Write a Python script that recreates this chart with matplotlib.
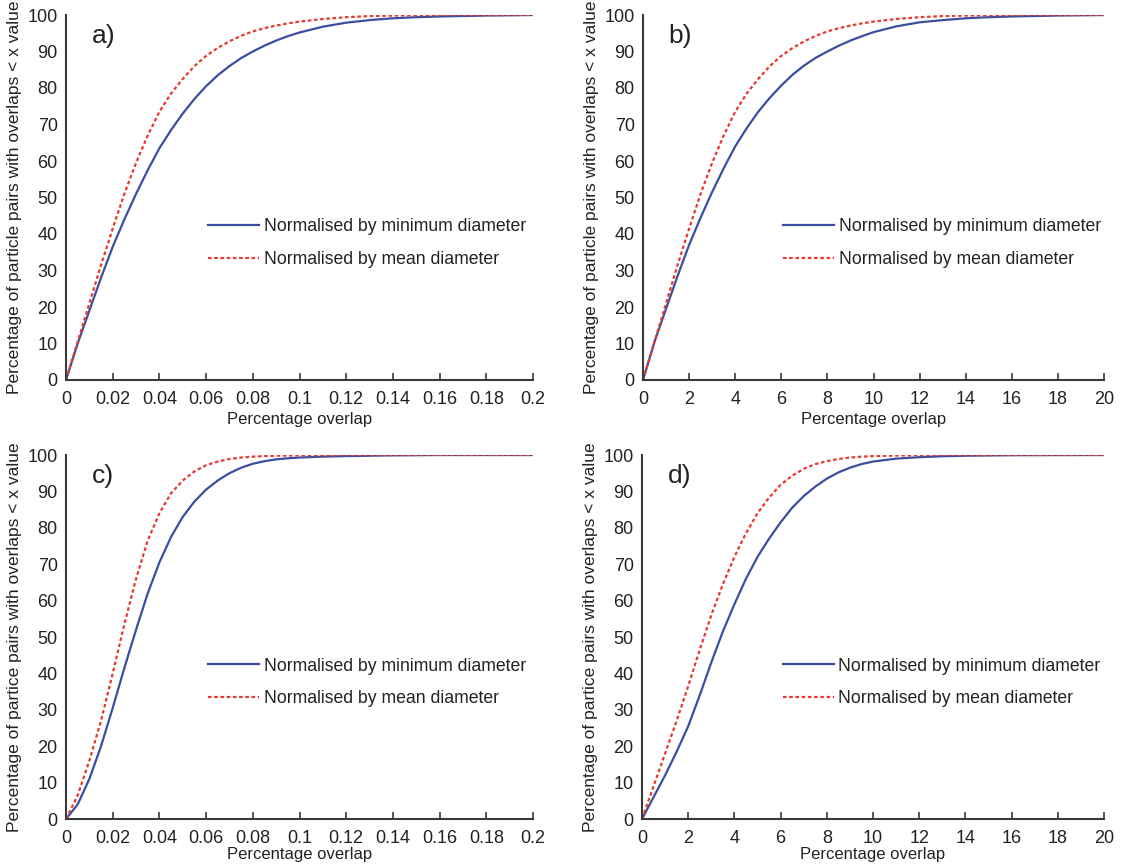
import numpy as np
import matplotlib
matplotlib.use("Agg")
import matplotlib.pyplot as plt

plt.rcParams['font.family'] = ['Liberation Sans', 'DejaVu Sans']

# Panel a) : overlap as fraction, 0 - 0.2
xa = [0, 0.005, 0.01, 0.015, 0.02, 0.025, 0.03, 0.035, 0.04, 0.045, 0.05, 0.055,
      0.06, 0.065, 0.07, 0.075, 0.08, 0.085, 0.09, 0.095, 0.1, 0.11, 0.12, 0.13,
      0.14, 0.15, 0.16, 0.18, 0.2]
a_min = [0, 10, 19, 28, 36.5, 44, 51, 57.5, 63.5, 68.5, 73, 77,
         80.5, 83.5, 86, 88.2, 90, 91.6, 93, 94.2, 95.2, 96.8, 97.9, 98.6,
         99.1, 99.4, 99.6, 99.85, 100]
a_mean = [0, 10.5, 21, 31.5, 41.5, 51, 59.5, 67, 73.5, 78.5, 82.5, 86,
          88.8, 91, 92.8, 94.3, 95.5, 96.4, 97.1, 97.7, 98.2, 98.9, 99.4, 99.7,
          99.85, 99.95, 100, 100, 100]

# Panel b) : overlap in percent, 0 - 20
xb = [0, 0.5, 1, 1.5, 2, 2.5, 3, 3.5, 4, 4.5, 5, 5.5,
      6, 6.5, 7, 7.5, 8, 8.5, 9, 9.5, 10, 11, 12, 13,
      14, 15, 16, 18, 20]
b_min = [0, 10.5, 19.5, 28.5, 37, 44.5, 51.5, 58, 64, 69, 73.5, 77.3,
         80.7, 83.7, 86.2, 88.3, 90, 91.6, 93, 94.2, 95.3, 96.9, 98, 98.6,
         99.1, 99.4, 99.6, 99.85, 100]
b_mean = [0, 10.5, 21, 31.5, 41.5, 51, 59.5, 67, 73.5, 78.5, 82.5, 86,
          88.8, 91, 92.8, 94.3, 95.5, 96.4, 97.1, 97.7, 98.2, 98.9, 99.4, 99.7,
          99.85, 99.95, 100, 100, 100]

# Panel c)
xc = [0, 0.005, 0.01, 0.015, 0.02, 0.025, 0.03, 0.035, 0.04, 0.045, 0.05, 0.055,
      0.06, 0.065, 0.07, 0.075, 0.08, 0.085, 0.09, 0.095, 0.1, 0.11, 0.12, 0.14,
      0.16, 0.2]
c_min = [0, 4, 11, 20, 30.5, 41.5, 52, 62, 70.5, 77.5, 83, 87.2,
         90.5, 93, 95, 96.5, 97.6, 98.3, 98.8, 99.1, 99.3, 99.55, 99.7, 99.9,
         100, 100]
c_mean = [0, 6.5, 16, 27, 40, 53.5, 66, 76.5, 84, 89.5, 93, 95.5,
          97.2, 98.2, 98.9, 99.3, 99.55, 99.7, 99.8, 99.85, 99.9, 99.95, 100, 100,
          100, 100]

# Panel d)
xd = [0, 0.5, 1, 1.5, 2, 2.5, 3, 3.5, 4, 4.5, 5, 5.5,
      6, 6.5, 7, 7.5, 8, 8.5, 9, 9.5, 10, 11, 12, 13,
      14, 16, 20]
d_min = [0, 6, 12, 18.5, 25.5, 34, 43, 51.5, 59, 66, 72, 77,
         81.5, 85.5, 88.7, 91.3, 93.5, 95.2, 96.5, 97.5, 98.2, 99, 99.4, 99.65,
         99.8, 99.95, 100]
d_mean = [0, 9, 18, 27, 36.5, 46.5, 56, 64.5, 72, 78.5, 84, 88.3,
          91.8, 94.3, 96.2, 97.5, 98.3, 98.9, 99.3, 99.55, 99.7, 99.85, 99.95, 100,
          100, 100, 100]

labels = ["a)", "b)", "c)", "d)"]
xs = [xa, xb, xc, xd]
mins = [a_min, b_min, c_min, d_min]
means = [a_mean, b_mean, c_mean, d_mean]
xmax = [0.2, 20, 0.2, 20]
xticks_small = [0, 0.02, 0.04, 0.06, 0.08, 0.1, 0.12, 0.14, 0.16, 0.18, 0.2]
xticks_big = [0, 2, 4, 6, 8, 10, 12, 14, 16, 18, 20]
ylabels = ["Percentage of particle pairs with overlaps < x value"] * 2 + \
          ["Percentage of partice pairs with overlaps < x value"] * 2
xlabel_pads = [3, 3, 0, 0]

W, H = 1126, 865
# axes boxes in pixels: left, top, right, bottom
boxes = [(66, 15, 533, 380), (643, 15, 1104, 380),
         (66, 455, 533, 819), (642, 455, 1104, 819)]

fig = plt.figure(figsize=(W / 100, H / 100), dpi=100)
blue = '#3b4ea0'
red = '#e8392f'
dark = '#3a3a3a'

for i in range(4):
    l, t, r, b = boxes[i]
    ax = fig.add_axes([l / W, (H - b) / H, (r - l) / W, (b - t) / H])
    ax.plot(xs[i], mins[i], color=blue, lw=1.6, label='Normalised by minimum diameter')
    ax.plot(xs[i], means[i], color=red, lw=1.6, linestyle=(0, (1.6, 1.2)),
            label='Normalised by mean diameter')
    ax.set_xlim(0, xmax[i])
    ax.set_ylim(0, 100)
    ax.set_yticks(range(0, 101, 10))
    if xmax[i] < 1:
        ax.set_xticks(xticks_small)
        ax.set_xticklabels(['%g' % v for v in xticks_small])
    else:
        ax.set_xticks(xticks_big)
    for s in ['top', 'right']:
        ax.spines[s].set_visible(False)
    for s in ['left', 'bottom']:
        ax.spines[s].set_color(dark)
        ax.spines[s].set_linewidth(1.5)
    ax.tick_params(axis='x', direction='in', length=5, width=1.2, color=dark,
                   labelsize=13, labelcolor='#222222', pad=8)
    ax.tick_params(axis='y', length=0, labelsize=13, labelcolor='#222222', pad=6)
    ax.set_xlabel('Percentage overlap', fontsize=12, color='#222222',
                  labelpad=xlabel_pads[i])
    ax.set_ylabel(ylabels[i], fontsize=12.5, color='#222222', labelpad=4)
    ax.text(0.055, 0.975, labels[i], transform=ax.transAxes, fontsize=19,
            va='top', ha='left', color='#222222')
    ax.legend(loc='center left', bbox_to_anchor=(0.27, 0.375), frameon=False,
              fontsize=12.7, handlelength=2.9, handletextpad=0.25, labelspacing=0.9,
              labelcolor='#222222')

fig.savefig('out.png', dpi=100)
